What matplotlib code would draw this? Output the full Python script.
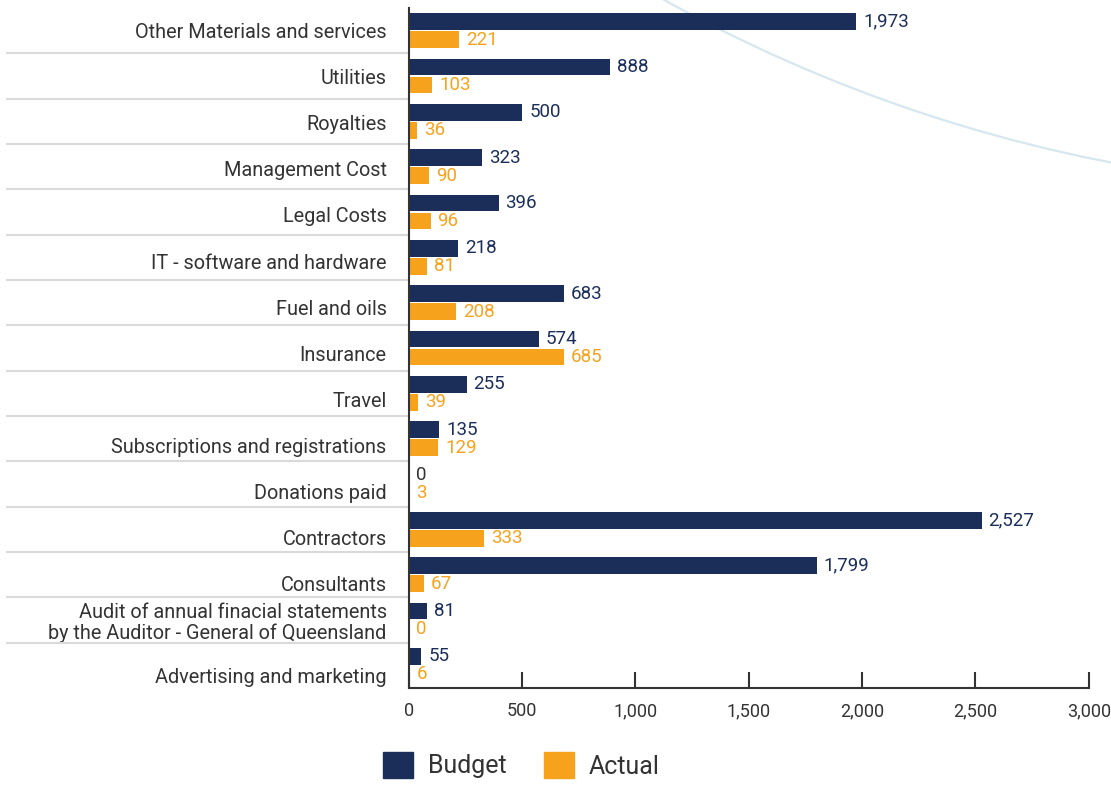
import matplotlib.pyplot as plt
import numpy as np
from matplotlib.patches import Patch, Circle
from matplotlib.transforms import ScaledTranslation

plt.rcParams['font.family'] = ['Roboto', 'DejaVu Sans']

categories = ["Other Materials and services", "Utilities", "Royalties", "Management Cost",
              "Legal Costs", "IT - software and hardware", "Fuel and oils", "Insurance",
              "Travel", "Subscriptions and registrations", "Donations paid", "Contractors",
              "Consultants", "Audit of annual finacial statements\nby the Auditor - General of Queensland",
              "Advertising and marketing"]
budget = [1973, 888, 500, 323, 396, 218, 683, 574, 255, 135, 0, 2527, 1799, 81, 55]
actual = [221, 103, 36, 90, 96, 81, 208, 685, 39, 129, 3, 333, 67, 0, 6]

navy = "#1b2e5a"
orange = "#f7a21c"
txt = "#333333"

fig = plt.figure(figsize=(11.11, 7.85), dpi=100)

# decorative arc in the background
bg = fig.add_axes([0, 0, 1, 1], zorder=-1)
bg.set_xlim(0, 1111)
bg.set_ylim(785, 0)
bg.axis('off')
bg.add_patch(Circle((1398, -1322), 1512, fill=False, ec="#d6e7ef", lw=1.6))

ax = fig.add_axes([0.368, 0.1236, 0.612, 0.8662])
ax.patch.set_alpha(0)
y = np.arange(len(categories))
h = 0.37
ax.barh(y - 0.2, budget, height=h, color=navy)
ax.barh(y + 0.2, actual, height=h, color=orange)

for i, (b, a) in enumerate(zip(budget, actual)):
    ax.annotate(f"{b:,}", (b, i - 0.2), xytext=(5, 0), textcoords="offset points",
                va="center", ha="left", fontsize=13.5, color=navy if b > 0 else txt)
    ax.annotate(f"{a:,}", (a, i + 0.2), xytext=(5, 0), textcoords="offset points",
                va="center", ha="left", fontsize=13.5, color=orange)

ax.set_ylim(len(categories) - 0.5, -0.5)
ax.set_xlim(0, 3000)
ax.set_xticks([0, 500, 1000, 1500, 2000, 2500, 3000])
ax.xaxis.set_major_formatter(plt.FuncFormatter(lambda v, p: f"{int(v):,}"))
ax.set_yticks(y)
ax.set_yticklabels(categories, fontsize=14.3, color=txt, linespacing=1.1)
ax.tick_params(axis='y', length=0, pad=16)
ax.tick_params(axis='x', direction='in', length=11.5, width=1.5, color=txt,
               labelsize=13, labelcolor=txt, pad=10)

# single-line labels drift slightly lower down the list, as in the original
for i, lbl in enumerate(ax.get_yticklabels()):
    if "\n" in lbl.get_text():
        continue
    shift = 0.75 * i / 100
    lbl.set_transform(lbl.get_transform() + ScaledTranslation(0, -shift, fig.dpi_scale_trans))

for s in ['top', 'right']:
    ax.spines[s].set_visible(False)
for s in ['left', 'bottom']:
    ax.spines[s].set_color(txt)
    ax.spines[s].set_linewidth(1.5)

# row separators on the label side
for i in range(len(categories) - 1):
    ax.plot([-0.591, 0], [i + 0.5, i + 0.5], transform=ax.get_yaxis_transform(),
            color="#d9d9d9", lw=1.5, clip_on=False)

handles = [Patch(color=navy, label="Budget"), Patch(color=orange, label="Actual")]
fig.legend(handles=handles, loc="center", bbox_to_anchor=(0.469, 0.025), ncol=2,
           frameon=False, fontsize=18, handlelength=1.2, handleheight=1.2,
           columnspacing=1.5, handletextpad=0.6, labelcolor=txt)

fig.savefig("out.png", dpi=100)
